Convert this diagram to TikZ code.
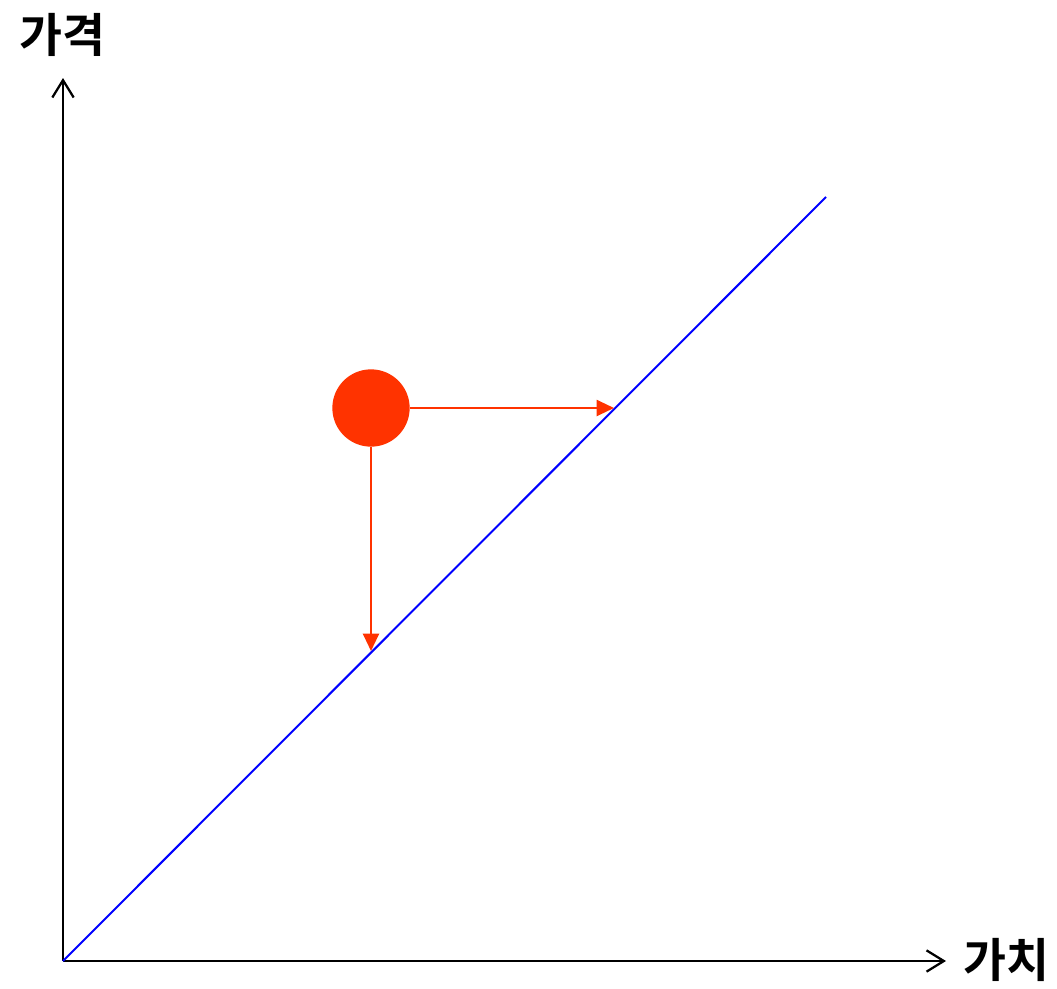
\documentclass[tikz,border=0pt]{standalone}
\usepackage{fontspec}
\newfontfamily\kofont{Noto Sans CJK KR}[BoldFont={* Bold}]
\usetikzlibrary{arrows.meta,positioning}
\definecolor{tkRed}{RGB}{255,51,0}
\definecolor{tkBlue}{RGB}{0,0,255}

\begin{document}
\begin{tikzpicture}[
  x=0.75pt, y=-0.75pt,
  axis/.style={line width=2pt, -{Straight Barb[length=13pt, width=16pt, line width=1.7pt]}},
  lbl/.style={font=\kofont\bfseries\fontsize{35}{40}\selectfont, inner sep=0pt},
  movearr/.style={tkRed, line width=1.6pt, -{Triangle[length=13pt, width=12pt]}},
]
\useasboundingbox (0,0) rectangle (1057,989);
% axes
\coordinate (o) at (63,961);
\coordinate (ytop) at (63,78);
\coordinate (xend) at (946,961);
\draw[axis] (o) -- (ytop);
\draw[axis] (o) -- (xend);
\node[lbl] (ylab) at (62,35) {가격};
\node[lbl] (xlab) at (1006,960) {가치};
% value line
\coordinate (lend) at (826,197);
\draw[tkBlue, line width=1.5pt] (o) -- (lend);
% point and moves
\node[circle, fill=tkRed, minimum size=58pt, inner sep=0pt] (dot) at (371,408) {};
\coordinate (hitx) at (614,408);
\coordinate (hity) at (371,651);
\draw[movearr] (dot.east) -- (hitx);
\draw[movearr] (dot.south) -- (hity);
\end{tikzpicture}
\end{document}
